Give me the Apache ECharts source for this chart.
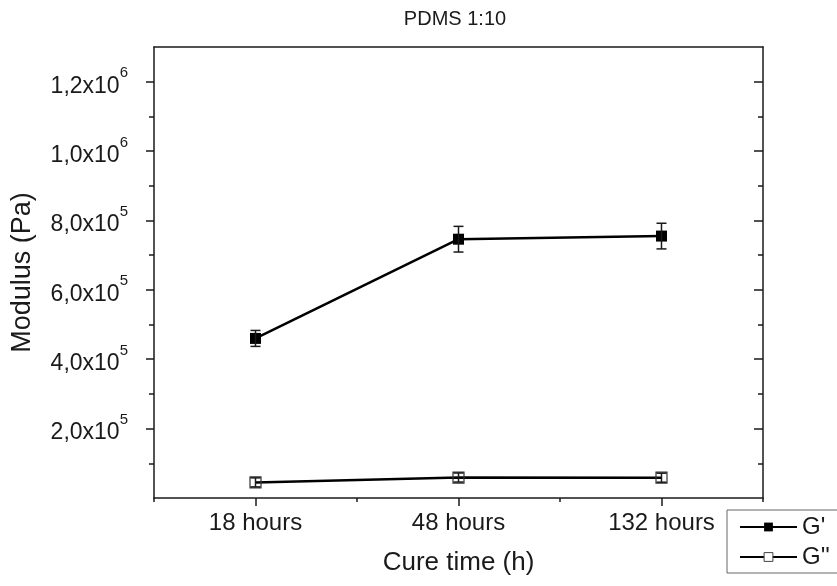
<!DOCTYPE html>
<html><head><meta charset="utf-8">
<script src="https://cdn.jsdelivr.net/npm/echarts@6/dist/echarts.min.js"></script>
<style>html,body{margin:0;padding:0;background:#fff}#c{width:837px;height:586px}</style>
</head><body><div id="c"></div>
<script>
const categories = ['18 hours', '48 hours', '132 hours'];
const gPrime = [4.60e5, 7.46e5, 7.55e5];
const gPrimeErr = [2.3e4, 3.7e4, 3.7e4];
const gDouble = [4.5e4, 5.9e4, 5.85e4];
const gDoubleErr = [1.3e4, 1.3e4, 1.3e4];
const yMajorTicks = [2e5, 4e5, 6e5, 8e5, 1e6, 1.2e6];
const yMinorTicks = [1e5, 3e5, 5e5, 7e5, 9e5, 1.1e6];
const xMajorTicks = [1, 2, 3];
const xMinorTicks = [0.5, 1.5, 2.5, 3.5];

const FONT = '"Liberation Sans", Arial, sans-serif';
const INK = '#1a1a1a';

function fmtSci(v) {
  const e = Math.floor(Math.log10(v) + 1e-9);
  const m = (v / Math.pow(10, e)).toFixed(1).replace('.', ',');
  return '{b|' + m + 'x10}{s|' + e + '}';
}

function errSeries(name, vals, errs) {
  return {
    type: 'custom', name: name + ' err', silent: true, z: 5,
    xAxisIndex: 0, yAxisIndex: 0,
    encode: { x: 0, y: [1, 2] },
    data: vals.map((v, i) => [i + 1, v - errs[i], v + errs[i]]),
    renderItem(params, api) {
      const x = api.value(0);
      const lo = api.coord([x, api.value(1)]);
      const hi = api.coord([x, api.value(2)]);
      const hw = 5;
      const st = { stroke: INK, lineWidth: 1.5 };
      return { type: 'group', children: [
        { type: 'line', shape: { x1: lo[0], y1: lo[1], x2: hi[0], y2: hi[1] }, style: st },
        { type: 'line', shape: { x1: lo[0] - hw, y1: lo[1], x2: lo[0] + hw, y2: lo[1] }, style: st },
        { type: 'line', shape: { x1: hi[0] - hw, y1: hi[1], x2: hi[0] + hw, y2: hi[1] }, style: st }
      ]};
    }
  };
}

const chart = echarts.init(document.getElementById('c'), null, { renderer: 'canvas' });
const axisLineStyle = { color: INK, width: 1.5 };

chart.setOption({
  animation: false,
  backgroundColor: '#fff',
  textStyle: { fontFamily: FONT },
  graphic: [{
    type: 'text', x: 455, y: 19,
    style: { text: 'PDMS 1:10', fill: INK, font: '20px ' + FONT, textAlign: 'center', textVerticalAlign: 'middle' }
  }],
  grid: { left: 154, right: 74, top: 47, bottom: 88, containLabel: false },
  legend: {
    orient: 'vertical', left: 727, top: 510,
    padding: [5, 8, 4, 12], itemGap: 6, itemWidth: 57, itemHeight: 11,
    borderColor: '#666', borderWidth: 1, backgroundColor: '#fff',
    textStyle: { fontSize: 24, color: INK, fontFamily: FONT },
    data: [
      { name: "G'" },
      { name: "G''", itemStyle: { color: '#fff', borderColor: '#444', borderWidth: 1 } }
    ]
  },
  xAxis: [
    {
      type: 'value', position: 'bottom', min: 0.5, max: 3.5, interval: 0.5,
      name: 'Cure time (h)', nameLocation: 'middle', nameGap: 52,
      nameTextStyle: { fontSize: 26, color: INK, fontFamily: FONT },
      axisLine: { show: true, onZero: false, lineStyle: axisLineStyle },
      axisTick: { show: true, length: 8, lineStyle: axisLineStyle, customValues: xMajorTicks },
      axisLabel: { show: true, margin: 13, fontSize: 24, color: INK, fontFamily: FONT,
        customValues: xMajorTicks, formatter: v => categories[Math.round(v) - 1] },
      splitLine: { show: false }
    },
    {
      type: 'value', position: 'bottom', min: 0.5, max: 3.5, interval: 0.5,
      axisLine: { show: false },
      axisTick: { show: true, length: 4, lineStyle: axisLineStyle, customValues: xMinorTicks },
      axisLabel: { show: false }, splitLine: { show: false }
    },
    {
      type: 'value', position: 'top', min: 0.5, max: 3.5, interval: 0.5,
      axisLine: { show: true, onZero: false, lineStyle: axisLineStyle },
      axisTick: { show: false }, axisLabel: { show: false }, splitLine: { show: false }
    }
  ],
  yAxis: [
    {
      type: 'value', position: 'left', min: 0, max: 1.3e6, interval: 2e5,
      name: 'Modulus (Pa)', nameLocation: 'middle', nameGap: 118,
      nameTextStyle: { fontSize: 27, color: INK, fontFamily: FONT },
      axisLine: { show: true, onZero: false, lineStyle: axisLineStyle },
      axisTick: { show: true, length: 8, lineStyle: axisLineStyle, customValues: yMajorTicks },
      axisLabel: { show: true, margin: 26, color: INK, customValues: yMajorTicks,
        formatter: fmtSci,
        rich: {
          b: { fontSize: 23, fontFamily: FONT, color: INK, lineHeight: 32, verticalAlign: 'bottom' },
          s: { fontSize: 15, fontFamily: FONT, color: INK, lineHeight: 32, verticalAlign: 'top' }
        }
      },
      splitLine: { show: false }
    },
    {
      type: 'value', position: 'left', min: 0, max: 1.3e6, interval: 1e5,
      axisLine: { show: false },
      axisTick: { show: true, length: 5, lineStyle: axisLineStyle, customValues: yMinorTicks },
      axisLabel: { show: false }, splitLine: { show: false }
    },
    {
      type: 'value', position: 'right', min: 0, max: 1.3e6, interval: 2e5,
      axisLine: { show: true, onZero: false, lineStyle: axisLineStyle },
      axisTick: { show: true, inside: true, length: 9, lineStyle: axisLineStyle, customValues: yMajorTicks },
      axisLabel: { show: false }, splitLine: { show: false }
    },
    {
      type: 'value', position: 'right', min: 0, max: 1.3e6, interval: 1e5,
      axisLine: { show: false },
      axisTick: { show: true, inside: true, length: 5, lineStyle: axisLineStyle, customValues: yMinorTicks },
      axisLabel: { show: false }, splitLine: { show: false }
    }
  ],
  series: [
    {
      name: "G'", type: 'line', xAxisIndex: 0, yAxisIndex: 0, z: 3,
      data: gPrime.map((v, i) => [i + 1, v]),
      symbol: 'rect', symbolSize: 11, showAllSymbol: true,
      itemStyle: { color: '#000' },
      lineStyle: { color: '#000', width: 2.5 }
    },
    {
      name: "G''", type: 'line', xAxisIndex: 0, yAxisIndex: 0, z: 3,
      data: gDouble.map((v, i) => [i + 1, v]),
      symbol: 'rect', symbolSize: 11, showAllSymbol: true,
      itemStyle: { color: 'rgba(255,255,255,0)', borderColor: '#333', borderWidth: 1.2 },
      lineStyle: { color: '#000', width: 2.5 }
    },
    errSeries("G'", gPrime, gPrimeErr),
    errSeries("G''", gDouble, gDoubleErr)
  ]
});
</script></body></html>
